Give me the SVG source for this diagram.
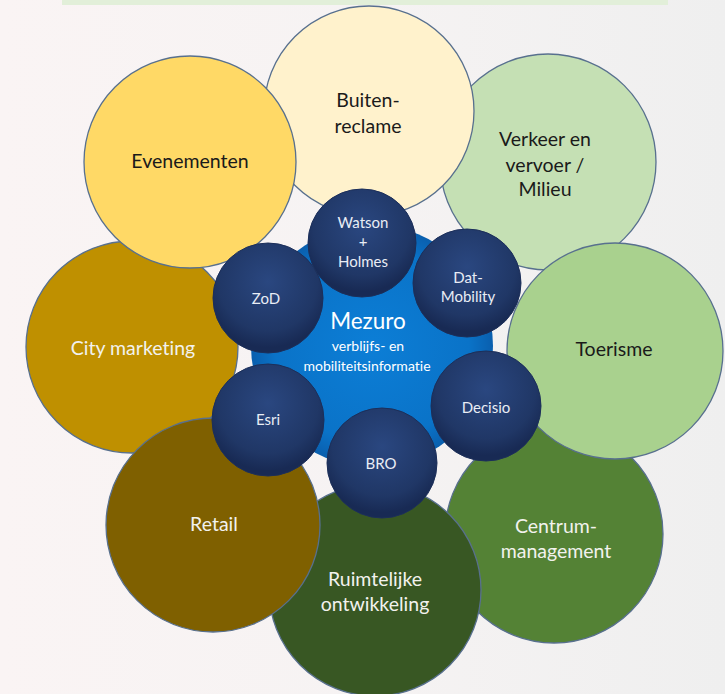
<svg xmlns="http://www.w3.org/2000/svg" width="725" height="694" viewBox="0 0 725 694">
<defs>
<linearGradient id="bg" x1="0" y1="0" x2="1" y2="0">
<stop offset="0" stop-color="#faf4f4"/>
<stop offset="0.5" stop-color="#f6f3f3"/>
<stop offset="1" stop-color="#efefef"/>
</linearGradient>
<radialGradient id="blue" cx="0.5" cy="0.5" r="0.5">
<stop offset="0" stop-color="#0c7ed6"/>
<stop offset="0.8" stop-color="#0a73c8"/>
<stop offset="1" stop-color="#0a5fae"/>
</radialGradient>
<radialGradient id="navy" cx="0.5" cy="0.35" r="0.6">
<stop offset="0" stop-color="#2a4780"/>
<stop offset="0.75" stop-color="#203766"/>
<stop offset="1" stop-color="#182a54"/>
</radialGradient>
</defs>
<style>
text{font-variant-ligatures:none;font-family:Lato,"Open Sans",sans-serif;text-anchor:middle}
.o{stroke:#58708e;stroke-width:1.3}
.s{fill:url(#navy);stroke:#1c2f5a;stroke-width:1}
.t{font-size:19.5px}
.dk{fill:#1a1a1a}
.lt{fill:#f2f2ee}
.w{font-size:15px;fill:#e9edf5}
.m{fill:#ffffff}
</style>
<rect width="725" height="694" fill="url(#bg)"/>
<rect x="62" y="0" width="606" height="5" fill="#e2efd9"/>
<g id="verkeer"><circle class="o" cx="548" cy="162" r="108" fill="#c5e0b4"/>
<text class="t dk" x="545" y="146">Verkeer en</text><text class="t dk" x="545" y="172">vervoer /</text><text class="t dk" x="545" y="196">Milieu</text></g>
<g id="centrum"><circle class="o" cx="554" cy="534" r="109" fill="#548235"/>
<text class="t lt" x="556" y="533">Centrum-</text><text class="t lt" x="556" y="558">management</text></g>
<g id="citymarketing"><circle class="o" cx="132" cy="347" r="106" fill="#bf9000"/>
<text class="t lt" x="133" y="355">City marketing</text></g>
<g id="toerisme"><circle class="o" cx="615" cy="351" r="108" fill="#a9d18e"/>
<text class="t dk" x="614" y="356">Toerisme</text></g>
<g id="ruimtelijke"><circle class="o" cx="375" cy="590" r="106" fill="#385723"/>
<text class="t lt" x="375" y="586">Ruimtelijke</text><text class="t lt" x="375" y="611">ontwikkeling</text></g>
<g id="retail"><circle class="o" cx="213" cy="525" r="107" fill="#7f6000"/>
<text class="t lt" x="214" y="531">Retail</text></g>
<g id="buiten"><circle class="o" cx="369" cy="111" r="105" fill="#fff2cc"/>
<text class="t dk" x="368" y="107">Buiten-</text><text class="t dk" x="368" y="133">reclame</text></g>
<g id="evenementen"><circle class="o" cx="190" cy="162" r="106" fill="#ffd966"/>
<text class="t dk" x="190" y="168">Evenementen</text></g>
<g id="mezuro"><circle cx="372" cy="346" r="121" fill="url(#blue)"/>
<text class="m" x="368" y="329" font-size="22.5">Mezuro</text>
<text class="m" x="368" y="351" font-size="14">verblijfs- en</text>
<text class="m" x="367" y="371" font-size="14">mobiliteitsinformatie</text></g>
<g id="watson"><circle class="s" cx="362" cy="243" r="54"/>
<text class="w" x="363" y="228">Watson</text><text class="w" x="363" y="247">+</text><text class="w" x="363" y="267">Holmes</text></g>
<g id="datmobility"><circle class="s" cx="467" cy="283" r="54"/>
<text class="w" x="468" y="283">Dat-</text><text class="w" x="468" y="302">Mobility</text></g>
<g id="decisio"><circle class="s" cx="486" cy="406" r="55"/>
<text class="w" x="486" y="413">Decisio</text></g>
<g id="bro"><circle class="s" cx="382" cy="463" r="55"/>
<text class="w" x="381" y="469">BRO</text></g>
<g id="esri"><circle class="s" cx="268" cy="420" r="56"/>
<text class="w" x="268" y="425">Esri</text></g>
<g id="zod"><circle class="s" cx="268" cy="298" r="55"/>
<text class="w" x="266" y="304">ZoD</text></g>
<g id="connectors"></g>
</svg>
